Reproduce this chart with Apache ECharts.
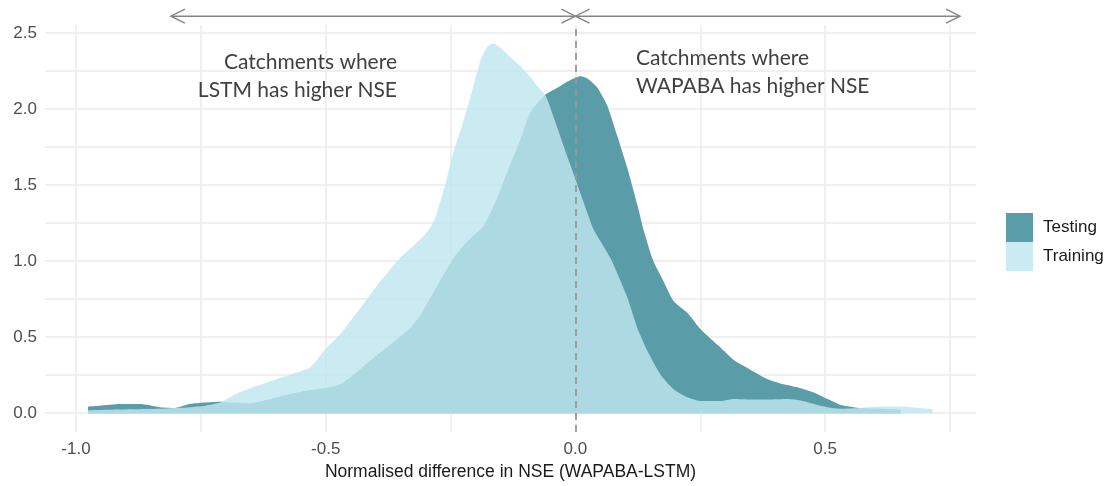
<!DOCTYPE html>
<html>
<head>
<meta charset="utf-8">
<script src="https://cdn.jsdelivr.net/npm/echarts@6/dist/echarts.min.js"></script>
<style>html,body{margin:0;padding:0;background:#fff;}#c{width:1113px;height:486px;}</style>
</head>
<body>
<div id="c"></div>
<script>
// ---- data ----
const testingX = [-0.976,-0.952,-0.912,-0.872,-0.832,-0.802,-0.772,-0.741,-0.711,-0.691,-0.651,-0.611,-0.571,-0.531,-0.491,-0.471,-0.451,-0.411,-0.371,-0.331,-0.311,-0.291,-0.271,-0.244,-0.230,-0.210,-0.184,-0.156,-0.130,-0.110,-0.090,-0.060,-0.036,-0.010,0.010,0.024,0.044,0.064,0.084,0.104,0.124,0.136,0.156,0.176,0.196,0.224,0.251,0.291,0.317,0.351,0.385,0.417,0.451,0.477,0.505,0.531,0.557,0.571,0.611,0.651];
const testingY = [0.045,0.05,0.06,0.06,0.04,0.035,0.06,0.07,0.075,0.07,0.065,0.093,0.126,0.152,0.17,0.19,0.235,0.345,0.45,0.56,0.64,0.757,0.87,1.02,1.08,1.15,1.23,1.42,1.64,1.8,1.98,2.095,2.14,2.19,2.215,2.2,2.14,2.02,1.82,1.61,1.37,1.21,1.0,0.87,0.74,0.66,0.55,0.43,0.35,0.285,0.224,0.19,0.165,0.137,0.093,0.054,0.04,0.035,0.03,0.025];
const trainingX = [-0.976,-0.912,-0.832,-0.772,-0.741,-0.711,-0.681,-0.651,-0.611,-0.571,-0.531,-0.501,-0.471,-0.445,-0.431,-0.397,-0.351,-0.331,-0.297,-0.281,-0.261,-0.244,-0.230,-0.210,-0.190,-0.176,-0.164,-0.150,-0.130,-0.110,-0.090,-0.076,-0.060,-0.044,-0.024,-0.010,0.000,0.016,0.030,0.036,0.070,0.104,0.124,0.144,0.170,0.196,0.224,0.251,0.291,0.317,0.351,0.385,0.425,0.451,0.477,0.505,0.531,0.571,0.611,0.651,0.685,0.715];
const trainingY = [0.02,0.025,0.03,0.04,0.05,0.07,0.125,0.165,0.21,0.255,0.3,0.42,0.52,0.63,0.69,0.84,1.02,1.08,1.19,1.28,1.5,1.72,1.86,2.08,2.32,2.41,2.43,2.40,2.34,2.28,2.21,2.15,2.09,1.95,1.76,1.63,1.54,1.39,1.26,1.21,1.02,0.76,0.56,0.41,0.255,0.16,0.105,0.08,0.08,0.093,0.09,0.09,0.093,0.083,0.061,0.04,0.03,0.035,0.044,0.044,0.035,0.028];
const seriesNames = ['Testing', 'Training'];
const xTickLabels = [-1.0, -0.5, 0.0, 0.5];
const xGridValues = [-1.0, -0.75, -0.5, -0.25, 0.0, 0.25, 0.5, 0.75];
const yTickLabels = [0.0, 0.5, 1.0, 1.5, 2.0, 2.5];
const yGridValues = [0.0, 0.25, 0.5, 0.75, 1.0, 1.25, 1.5, 1.75, 2.0, 2.25, 2.5];
const refLineX = 0;
const arrowStart = [0, 0];
const arrowEnd = [-0.81, 0.77];
const arrowLevel = 2.61;
const annotationLeft = 'Catchments where\nLSTM has higher NSE';
const annotationRight = 'Catchments where\nWAPABA has higher NSE';
const xTitle = 'Normalised difference in NSE (WAPABA-LSTM)';

const zip = (xs, ys) => xs.map((x, i) => [x, ys[i]]);

const chart = echarts.init(document.getElementById('c'), null, {renderer: 'canvas'});
const gridColor = '#ebebeb';
const option = {
  animation: false,
  backgroundColor: '#ffffff',
  grid: {left: 45, right: 137, top: 25, bottom: 51, containLabel: false},
  xAxis: {
    type: 'value', min: -1.062, max: 0.802,
    axisLine: {show: false, onZero: false},
    axisTick: {show: false, customValues: xGridValues},
    splitLine: {show: true, lineStyle: {color: gridColor, width: 1.5}},
    axisLabel: {customValues: xTickLabels, formatter: v => v.toFixed(1), color: '#4d4d4d', fontSize: 17, fontFamily: 'Liberation Sans', margin: 9},
    name: xTitle, nameLocation: 'middle', nameGap: 30,
    nameTextStyle: {color: '#1a1a1a', fontSize: 17.5, fontFamily: 'Liberation Sans'}
  },
  yAxis: {
    type: 'value', min: -0.124, max: 2.552,
    axisLine: {show: false, onZero: false},
    axisTick: {show: false, customValues: yGridValues},
    splitLine: {show: true, lineStyle: {color: gridColor, width: 1.5}},
    axisLabel: {customValues: yTickLabels, formatter: v => v.toFixed(1), color: '#4d4d4d', fontSize: 17, fontFamily: 'Liberation Sans', margin: 8}
  },
  legend: {
    orient: 'vertical', left: 1006, top: 213, padding: 0,
    itemWidth: 27, itemHeight: 29, itemGap: 0, icon: 'rect',
    data: seriesNames,
    textStyle: {color: '#1a1a1a', fontSize: 17, fontFamily: 'Liberation Sans', padding: [0, 0, 0, 5]}
  },
  series: [
    {
      name: seriesNames[0], type: 'line', data: zip(testingX, testingY),
      smooth: 0.2, showSymbol: false, z: 2,
      color: '#5a9da8',
      lineStyle: {width: 0},
      areaStyle: {color: '#5a9da8', opacity: 1}
    },
    {
      name: seriesNames[1], type: 'line', data: zip(trainingX, trainingY),
      smooth: 0.2, showSymbol: false, z: 3,
      color: 'rgba(191,230,239,0.81)',
      lineStyle: {width: 0},
      areaStyle: {color: 'rgba(191,230,239,0.81)', opacity: 1},
      markLine: {
        silent: true, symbol: ['none', 'none'], z: 10,
        label: {show: false},
        lineStyle: {color: '#999999', width: 1.8, type: [7, 5]},
        data: [{xAxis: refLineX}]
      }
    },
    {
      type: 'custom', z: 10, clip: false, silent: true,
      data: arrowStart.map((s, i) => [s, arrowEnd[i], arrowLevel]),
      encode: {x: [0, 1], y: 2},
      renderItem: function (params, api) {
        const p0 = api.coord([api.value(0), api.value(2)]);
        const p1 = api.coord([api.value(1), api.value(2)]);
        const dir = p1[0] > p0[0] ? 1 : -1;
        const st = {stroke: '#858585', lineWidth: 1.4, fill: null};
        const hx = 14, hy = 7;
        return {
          type: 'group',
          children: [
            {type: 'line', shape: {x1: p0[0], y1: p0[1], x2: p1[0], y2: p1[1]}, style: st},
            {type: 'polyline', shape: {points: [[p1[0] - dir * hx, p1[1] - hy], [p1[0], p1[1]], [p1[0] - dir * hx, p1[1] + hy]]}, style: st},
            {type: 'polyline', shape: {points: [[p0[0] + dir * hx, p0[1] - hy], [p0[0], p0[1]], [p0[0] + dir * hx, p0[1] + hy]]}, style: st}
          ]
        };
      }
    }
  ],
  graphic: [
    {type: 'text', x: 397, y: 76, z: 20, style: {text: annotationLeft, align: 'right', verticalAlign: 'middle', fill: '#404040', font: '21px Lato', lineHeight: 28}},
    {type: 'text', x: 636, y: 72, z: 20, style: {text: annotationRight, align: 'left', verticalAlign: 'middle', fill: '#404040', font: '21px Lato', lineHeight: 28}}
  ]
};
chart.setOption(option);
</script>
</body>
</html>
